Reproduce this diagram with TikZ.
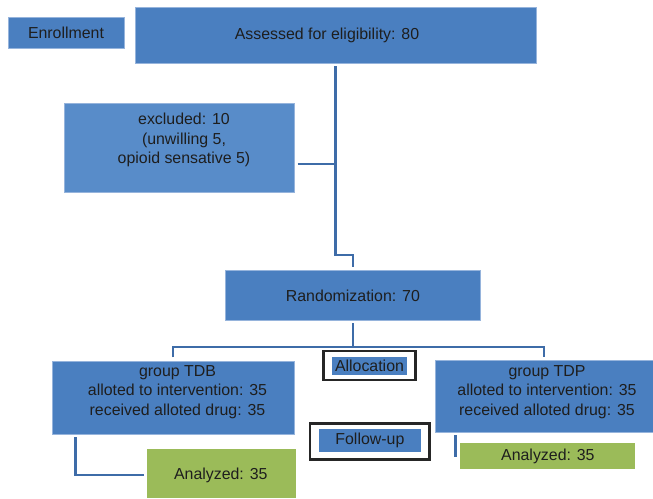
\documentclass[tikz,border=0pt]{standalone}
\usepackage{fontspec}
\setmainfont{Liberation Sans}
\definecolor{boxblue}{RGB}{74,127,192}
\definecolor{exblue}{RGB}{88,140,201}
\definecolor{boxgreen}{RGB}{155,187,89}
\definecolor{linecol}{RGB}{62,108,168}
\definecolor{edgecol}{RGB}{150,180,220}
\definecolor{txtcol}{RGB}{30,30,30}
\begin{document}
\begin{tikzpicture}[x=1pt,y=-1pt,
  every node/.style={font=\fontsize{15.9}{19.5}\selectfont, text=txtcol, align=center, inner sep=0pt, outer sep=0pt},
  bbox/.style={rectangle, fill=boxblue, draw=edgecol, line width=0.6pt},
  gbox/.style={rectangle, fill=boxgreen},
  frame/.style={rectangle, draw=black!85, line width=2.5pt, fill=white},
  conn/.style={draw=linecol, line width=2.2pt}]
\useasboundingbox (0,0) rectangle (653,498);

\node[bbox, minimum width=116, minimum height=31] (enr) at (66,33) {Enrollment};
\node[bbox, minimum width=401, minimum height=56] (assess) at (335.9,35) {};
\node (assesst) at (327,35) {Assessed for eligibility: 80};
\node[bbox, fill=exblue, minimum width=230, minimum height=88.7] (excl) at (179.6,147.7) {};
\node (exclt) at (184,140) {excluded: 10\\(unwilling 5,\\opioid sensative 5)};
\node[bbox, minimum width=255, minimum height=49.6] (rand) at (352.9,295.5) {Randomization: 70};

\node[bbox, minimum width=242, minimum height=73] (tdb) at (173.5,397.5) {};
\node (tdbt) at (177.5,392) {group TDB\\alloted to intervention: 35\\received alloted drug: 35};
\node[bbox, minimum width=218, minimum height=72] (tdp) at (544.5,396) {};
\node (tdpt) at (547,392) {group TDP\\alloted to intervention: 35\\received alloted drug: 35};

\node[frame, minimum width=92.2, minimum height=29] (allocf) at (369.6,365.5) {};
\node[bbox, draw=none, minimum width=75, minimum height=17.4] (alloc) at (369.5,366) {Allocation};
\node[frame, minimum width=119.4, minimum height=36] (follf) at (369.7,441.7) {};
\node[bbox, draw=none, minimum width=101.8, minimum height=23] (foll) at (369.9,440.8) {Follow-up};

\node[gbox, minimum width=149, minimum height=48.7] (anl) at (221.5,473.65) {};
\node (anlt) at (220.8,475) {Analyzed: 35};
\node[gbox, minimum width=175, minimum height=25.4] (anr) at (547.9,456) {Analyzed: 35};

% connectors
\coordinate (j1) at (335.4,255);
\coordinate (j2) at (353.3,255);
\draw[conn] ([yshift=-3pt]assess.south -| j1) -- (j1) -- (j2) -- ([yshift=3.5pt]rand.north -| j2);
\coordinate (ex) at ([shift={(3,16)}]excl.east);
\draw[conn] (ex) -- (ex -| j1);

\coordinate (bl) at (173,346.7);
\coordinate (br) at (544,346.7);
\draw[conn] ([yshift=-3pt]rand.south) -- (rand.south |- bl);
\draw[conn] ([yshift=3.7pt]tdb.north -| bl) -- (bl) -- (br) -- ([yshift=2.7pt]tdp.north -| br);

\coordinate (lv) at (75.4,475.3);
\draw[conn] ([yshift=-3pt]tdb.south -| lv) -- (lv) -- ([xshift=-3.3pt]anl.west |- lv);
\coordinate (rend) at (455.4,457.3);
\draw[conn] ([yshift=-3.3pt]tdp.south -| rend) -- (rend);
\end{tikzpicture}
\end{document}
